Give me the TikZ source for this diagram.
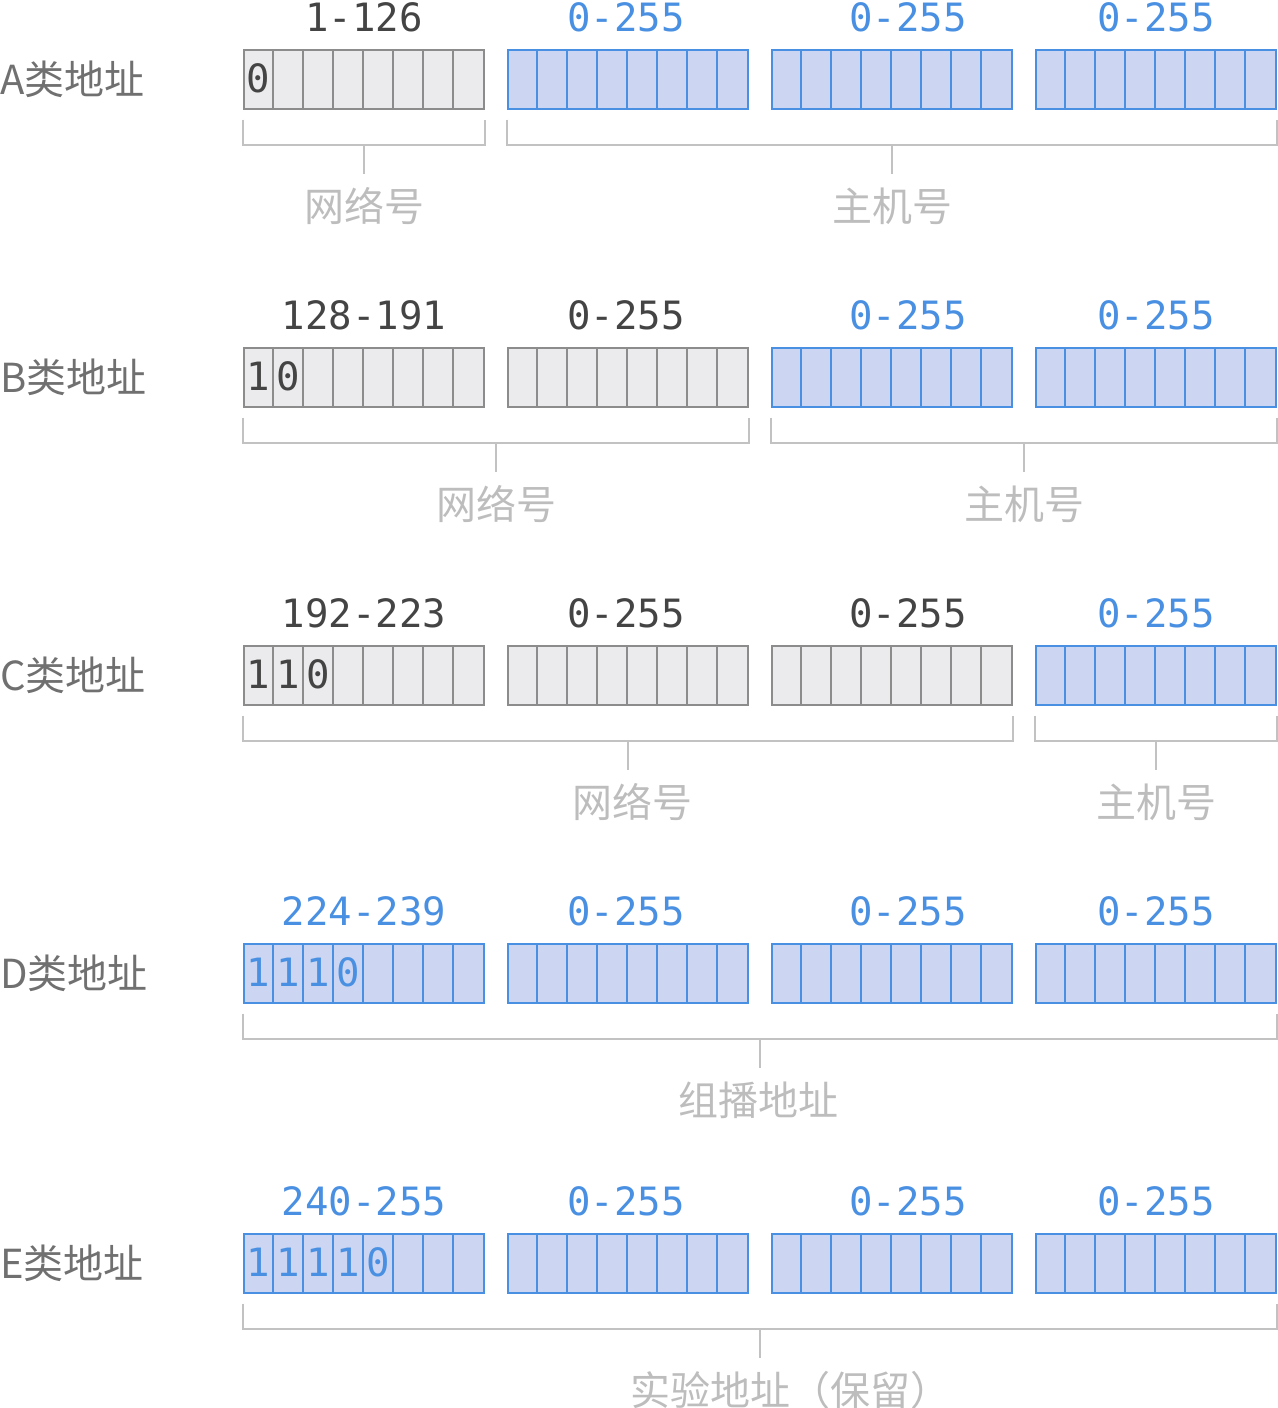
\documentclass[tikz,border=0pt]{standalone}
\usepackage{fontspec}
\setmainfont{Noto Sans CJK SC}
\setmonofont{DejaVu Sans Mono}
\usetikzlibrary{calc}

\definecolor{greyfill}{HTML}{EBEBED}
\definecolor{greyline}{HTML}{8C8C8C}
\definecolor{bluefill}{HTML}{CCD6F2}
\definecolor{blueline}{HTML}{4A90E2}
\definecolor{numdark}{HTML}{444444}
\definecolor{rowgrey}{HTML}{707070}
\definecolor{bracegrey}{HTML}{C2C2C2}
\definecolor{notegrey}{HTML}{BDBDBD}

\tikzset{
  greybyte/.style={draw=greyline,fill=greyfill,line width=1pt,minimum width=120pt,minimum height=29.5pt,inner sep=0pt,anchor=north west},
  bluebyte/.style={draw=blueline,fill=bluefill,line width=1pt,minimum width=120pt,minimum height=29.5pt,inner sep=0pt,anchor=north west},
  greycell/.style={draw=greyline,line width=1pt},
  bluecell/.style={draw=blueline,line width=1pt},
  greynum/.style={text=numdark,inner sep=0pt,font=\ttfamily\fontsize{19.5}{20}\selectfont},
  bluenum/.style={text=blueline,inner sep=0pt,font=\ttfamily\fontsize{19.5}{20}\selectfont},
  rowname/.style={text=rowgrey,anchor=west,inner sep=0pt,font=\fontsize{20}{22}\selectfont},
  bracket/.style={draw=bracegrey,line width=1pt},
  fieldname/.style={text=notegrey,inner sep=0pt,font=\fontsize{20}{22}\selectfont}
}

\newcommand{\bytebox}[4]{%
  \node[#4byte] (#1) at (#2,#3) {};
  \foreach \k in {1,...,7}
    \draw[#4cell] ($(#1.north west)+(\k*30,0)$) -- ($(#1.south west)+(\k*30,0)$);
}
\newcommand{\fieldbrace}[5][0]{%
  \draw[bracket] ($(#2.south west)+(0,9.5)$) -- ++(0,25) coordinate (#4l)
    -- ($(#3.south east)+(0,34.5)$) coordinate (#4r) -- ++(0,-25);
  \node[fieldname] (#4) at ($($(#4l)!0.5!(#4r)$)+(#1,62)$) {#5};
  \draw[bracket] ($(#4l)!0.5!(#4r)$) -- ++(0,29);
}

\begin{document}
\begin{tikzpicture}[x=0.5pt,y=-0.5pt]
\useasboundingbox (0,0) rectangle (1278,1408);
\foreach \row/\y/\sa/\sb/\sc/\sd/\first/\bits in {
    A/49/grey/blue/blue/blue/1-126/{0},
    B/347/grey/grey/blue/blue/128-191/{1,0},
    C/645/grey/grey/grey/blue/192-223/{1,1,0},
    D/943/blue/blue/blue/blue/224-239/{1,1,1,0},
    E/1233/blue/blue/blue/blue/240-255/{1,1,1,1,0}}{
  \node[rowname] (\row name) at (0,\y+30) {\row 类地址};
  \bytebox{\row1}{243}{\y}{\sa}
  \bytebox{\row2}{507}{\y}{\sb}
  \bytebox{\row3}{771}{\y}{\sc}
  \bytebox{\row4}{1035}{\y}{\sd}
  \node[\sa num] (\row1num) at ($(\row1.north)+(0,-32)$) {\first};
  \foreach \n/\s/\dx in {2/\sb/-2,3/\sc/16,4/\sd/0}
    \node[\s num] (\row\n num) at ($(\row\n.north)+(\dx,-32)$) {0-255};
  \foreach \b [count=\i] in \bits
    \node[\sa num] (\row bit\i) at ($(\row1.north west)+(\i*30-15,29.5)$) {\b};
}
\fieldbrace{A1}{A1}{Anet}{网络号}
\fieldbrace{A2}{A4}{Ahost}{主机号}
\fieldbrace{B1}{B2}{Bnet}{网络号}
\fieldbrace{B3}{B4}{Bhost}{主机号}
\fieldbrace[4]{C1}{C3}{Cnet}{网络号}
\fieldbrace{C4}{C4}{Chost}{主机号}
\fieldbrace[-2]{D1}{D4}{Dall}{组播地址}
\fieldbrace[30]{E1}{E4}{Eall}{实验地址（保留）}
\end{tikzpicture}
\end{document}
